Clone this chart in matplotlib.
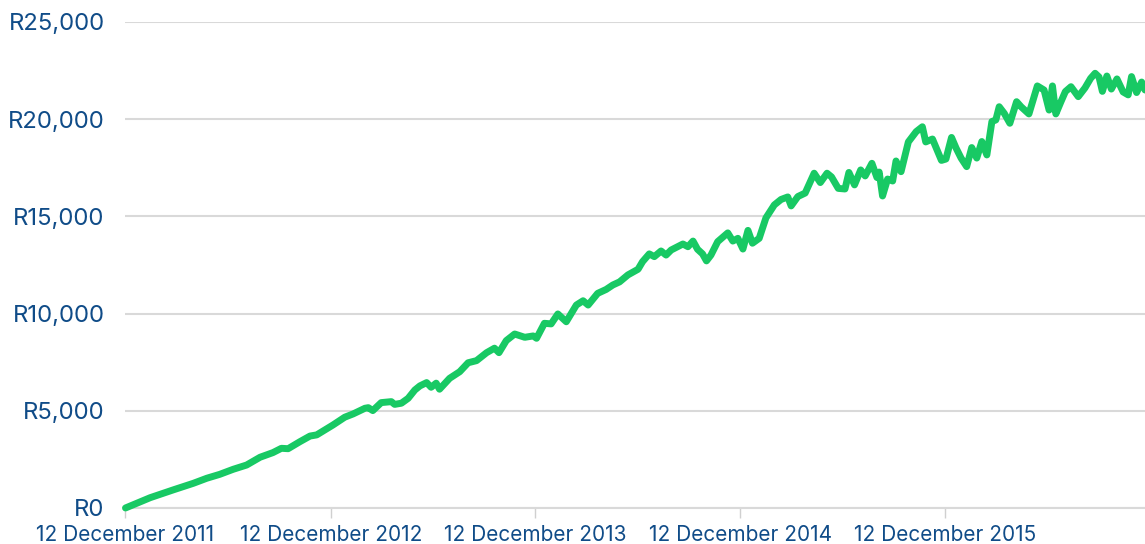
import matplotlib.pyplot as plt
import matplotlib.ticker as mticker
import pandas as pd

# value of the investment
start_date = "2011-12-12"
# days after 12 December 2011
day_offsets = [
    0, 44, 85, 121, 145, 168, 192, 216, 240, 263, 278, 290, 311, 329, 341, 370,
    391, 406, 427, 433, 441, 456, 474, 480, 492, 504, 516, 525, 537, 545, 554,
    560, 578, 596, 611, 626, 644, 658, 666, 679, 694, 712, 727, 733, 747, 759,
    771, 786, 804, 816, 825, 842, 857, 869, 881, 896, 914, 922, 934, 943, 955,
    964, 973, 994, 1003, 1012, 1020, 1029, 1036, 1044, 1056, 1074, 1083, 1092,
    1101, 1110, 1118, 1130, 1142, 1157, 1169, 1181, 1187, 1199, 1212, 1228,
    1239, 1251, 1259, 1271, 1283, 1290, 1300, 1311, 1319, 1331, 1340, 1344,
    1350, 1359, 1368, 1374, 1383, 1396, 1410, 1421, 1427, 1439, 1445, 1455,
    1463, 1473, 1481, 1490, 1500, 1509, 1518, 1527, 1536, 1545, 1552, 1558,
    1567, 1577, 1589, 1597, 1611, 1626, 1638, 1647, 1653, 1659, 1668, 1676,
    1686, 1699, 1711, 1721, 1729, 1736, 1742, 1750, 1758, 1768, 1779, 1788,
    1794, 1803, 1812, 1818,
]
values = [
    0, 530, 930, 1270, 1530, 1730, 1990, 2210, 2610, 2850, 3070, 3050, 3410,
    3700, 3760, 4270, 4670, 4840, 5130, 5160, 5010, 5420, 5470, 5330, 5390,
    5640, 6070, 6280, 6450, 6210, 6420, 6110, 6670, 7010, 7470, 7580, 7990,
    8220, 7990, 8610, 8950, 8780, 8850, 8730, 9500, 9470, 9980, 9580, 10440,
    10660, 10440, 11040, 11240, 11470, 11630, 11990, 12280, 12670, 13070,
    12930, 13220, 13010, 13270, 13580, 13440, 13730, 13310, 13070, 12710,
    13010, 13700, 14150, 13730, 13870, 13320, 14280, 13620, 13870, 14920,
    15590, 15870, 16000, 15540, 16020, 16200, 17220, 16740, 17220, 17030,
    16440, 16410, 17260, 16620, 17390, 17080, 17730, 17000, 17280, 16050,
    16920, 16820, 17850, 17300, 18830, 19360, 19610, 18830, 18980, 18570,
    17880, 17950, 19060, 18520, 18000, 17560, 18540, 18000, 18850, 18160,
    19880, 19960, 20640, 20300, 19790, 20900, 20640, 20270, 21710, 21500,
    20470, 21710, 20270, 20890, 21420, 21670, 21160, 21610, 22100, 22360,
    22170, 21430, 22220, 21550, 22070, 21400, 21250, 22190, 21370, 21910,
    21500,
]
tick_dates = ["2011-12-12", "2012-12-12", "2013-12-12", "2014-12-12", "2015-12-12"]
tick_labels = ["12 December 2011", "12 December 2012", "12 December 2013",
               "12 December 2014", "12 December 2015"]
y_ticks = [0, 5000, 10000, 15000, 20000, 25000]

plt.rcParams['font.family'] = ['Inter', 'DejaVu Sans']

dates = pd.Timestamp(start_date) + pd.to_timedelta(day_offsets, unit="D")

fig = plt.figure(figsize=(11.45, 5.44), dpi=100)
ax = fig.add_axes([0.1096, 0.0662, 0.8904, 0.8934])

ax.plot(dates, values, color='#18c964', linewidth=5, solid_capstyle='round',
        solid_joinstyle='round', clip_on=False, zorder=3)

ax.set_xlim(pd.Timestamp(start_date), pd.Timestamp(start_date) + pd.Timedelta(days=1818))
ax.set_ylim(0, 25000)

ax.set_yticks(y_ticks)
ax.yaxis.set_major_formatter(mticker.FuncFormatter(lambda v, p: "R{:,.0f}".format(v)))
ax.set_xticks(pd.to_datetime(tick_dates))
ax.set_xticklabels(tick_labels)

for s in ['top', 'right', 'left']:
    ax.spines[s].set_visible(False)
ax.spines['bottom'].set_color('#d9d9d9')
ax.spines['bottom'].set_linewidth(1.5)

ax.grid(axis='y', color='#d9d9d9', linewidth=1.5)
ax.set_axisbelow(True)

ax.tick_params(axis='y', length=0, pad=15, labelsize=17.2, labelcolor='#104c88')
ax.tick_params(axis='x', length=7, width=1, color='#d0d0d0', pad=5.5,
               labelsize=15, labelcolor='#104c88')

plt.savefig('out.png', dpi=100)
plt.close()
